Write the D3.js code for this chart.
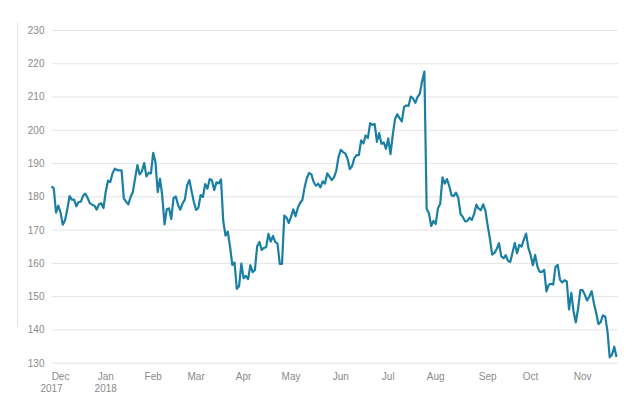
<!DOCTYPE html>
<html lang="en">
<head>
    <meta charset="UTF-8">
    <title>Daily close, Nov 2017 - Nov 2018</title>
    <script src="https://d3js.org/d3.v7.min.js"></script>
    <style>
        body { margin: 0; background: #fff; }
        .tick_label {
            font-family: "Liberation Sans Narrow", "Liberation Sans", Arial, sans-serif;
            font-size: 10px;
            fill: #8a8a8a;
        }
    </style>
</head>
<body>
    <svg width="640" height="402"></svg>
    <script>
        // daily closes, one per trading day, 27 Nov 2017 .. 23 Nov 2018
        const closes = [
            // Nov 2017
            183.0, 182.4, 175.1, 177.2,
            // Dec
            175.1, 171.5, 172.8, 176.1, 180.1, 179.0, 179.0, 177.0, 178.3, 178.4,
            180.2, 180.8, 179.5, 177.9, 177.5, 177.2, 176.0, 177.6, 177.9, 176.5,
            // Jan
            181.4, 184.7, 184.3, 186.9, 188.3, 187.9, 187.8, 187.8, 179.4, 178.4,
            177.6, 179.8, 181.3, 185.4, 189.4, 186.6, 187.5, 190.0, 186.0, 187.1, 186.9,
            // Feb
            193.1, 190.3, 181.3, 185.3, 180.2, 171.6, 176.1, 176.4, 173.2, 179.5,
            180.0, 177.4, 176.0, 177.9, 179.0, 183.3, 184.9, 181.5, 178.3,
            // Mar
            175.9, 176.6, 180.4, 179.8, 183.7, 182.3, 185.2, 184.8, 181.9, 184.2,
            183.9, 185.1, 172.6, 168.2, 169.4, 164.9, 159.4, 160.1, 152.2, 153.0, 159.8,
            // Apr
            155.4, 156.1, 155.1, 159.3, 157.2, 157.9, 165.0, 166.3, 163.9, 164.5,
            164.8, 168.7, 166.4, 168.1, 166.3, 165.8, 159.7, 159.7, 174.2, 173.6, 172.0,
            // May
            173.9, 176.1, 174.0, 176.6, 178.0, 178.9, 182.7, 185.5, 187.0, 186.6,
            184.3, 183.2, 183.8, 182.7, 184.5, 183.8, 186.9, 185.9, 184.9, 185.7, 187.7, 191.8,
            // Jun
            194.0, 193.3, 192.9, 191.3, 188.2, 189.1, 191.5, 192.4, 192.4, 196.8,
            195.9, 198.3, 197.5, 202.0, 201.5, 201.7, 196.4, 199.0, 195.8, 196.2, 194.3,
            // Jul
            197.4, 192.7, 198.5, 203.2, 204.7, 203.5, 202.5, 206.9, 207.3, 207.2,
            210.0, 209.4, 208.1, 209.9, 210.9, 214.7, 217.5, 176.3, 174.9, 171.1, 172.6,
            // Aug
            171.7, 176.4, 177.8, 185.7, 183.8, 185.2, 183.1, 180.3, 180.1, 181.1,
            179.5, 174.7, 173.8, 172.5, 172.6, 173.6, 172.9, 174.7, 177.5, 176.3,
            175.9, 177.6, 175.7,
            // Sep
            171.2, 167.2, 162.5, 163.0, 164.2, 165.9, 162.0, 161.4, 162.3, 160.6,
            160.3, 163.1, 166.0, 162.9, 165.4, 164.9, 167.0, 168.8, 164.5,
            // Oct
            162.4, 159.3, 162.4, 158.9, 157.3, 157.3, 157.9, 151.4, 153.4, 153.7,
            153.5, 158.8, 159.4, 154.9, 154.1, 154.8, 154.4, 146.0, 151.0, 145.4,
            142.1, 146.2, 151.8,
            // Nov
            151.8, 150.4, 148.7, 149.9, 151.5, 147.9, 145.0, 141.6, 142.2, 144.2,
            143.9, 139.5, 131.6, 132.4, 134.8, 131.7
        ];

        // first trading day of each month, as an index into closes
        const tickIndex = [4, 24, 45, 64, 85, 106, 128, 149, 170, 193, 212, 235];
        const tickLabels = ["Dec", "Jan", "Feb", "Mar", "Apr", "May", "Jun", "Jul", "Aug", "Sep", "Oct", "Nov"];
        const tickYears = ["2017", "2018", "", "", "", "", "", "", "", "", "", ""];
        const yTicks = [130, 140, 150, 160, 170, 180, 190, 200, 210, 220, 230];

        const svg = d3.select("svg");

        const x = d3.scaleLinear()
            .domain([0, closes.length - 1])
            .range([51.5, 616.5]);

        const y = d3.scaleLinear()
            .domain([130, 230])
            .range([362.7, 30]);

        // faint left border
        svg.append("line")
            .attr("x1", 17.5).attr("x2", 17.5)
            .attr("y1", 22).attr("y2", 327)
            .attr("stroke", "#e4e4e4")
            .attr("stroke-width", 1);

        // horizontal grid + labels
        const yAxis = d3.axisLeft(y)
            .tickValues(yTicks)
            .tickSize(-(618 - 52))
            .tickPadding(8);

        const gy = svg.append("g")
            .attr("transform", "translate(52,0)")
            .call(yAxis);
        gy.select(".domain").remove();
        gy.selectAll(".tick line")
            .attr("stroke", "#e3e3e3")
            .attr("stroke-width", 1);
        gy.selectAll(".tick text")
            .attr("class", "tick_label")
            .attr("x", -7.5)
            .attr("dy", "0.34em");

        // month labels
        const gx = svg.append("g").attr("class", "months");
        gx.selectAll("text.m")
            .data(tickIndex)
            .enter()
            .append("text")
            .attr("class", "tick_label")
            .attr("x", function (d) { return x(d); })
            .attr("y", 380)
            .attr("text-anchor", "middle")
            .text(function (d, i) { return tickLabels[i]; });

        gx.selectAll("text.yr")
            .data(tickIndex)
            .enter()
            .append("text")
            .attr("class", "tick_label")
            .attr("x", function (d, i) { return i === 0 ? x(d) - 9 : x(d); })
            .attr("y", 392)
            .attr("text-anchor", "middle")
            .text(function (d, i) { return tickYears[i]; });

        // price line
        const line = d3.line()
            .x(function (d, i) { return x(i); })
            .y(function (d) { return y(d); });

        svg.append("path")
            .datum(closes)
            .attr("d", line)
            .attr("fill", "none")
            .attr("stroke", "#1a7fa2")
            .attr("stroke-width", 2.2)
            .attr("stroke-linejoin", "round");
    </script>
</body>
</html>
